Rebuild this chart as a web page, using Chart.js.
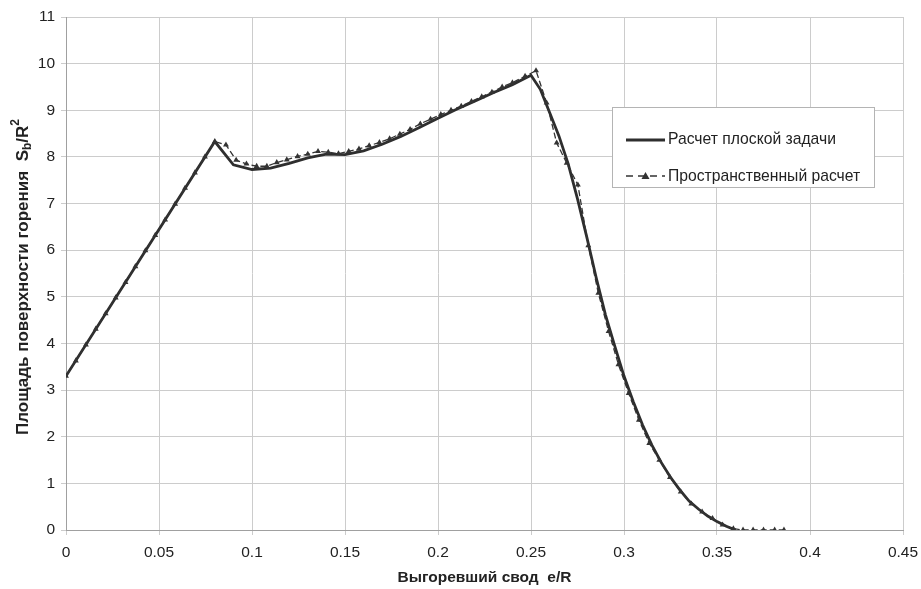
<!DOCTYPE html>
<html>
<head>
<meta charset="utf-8">
<script src="https://cdn.jsdelivr.net/npm/chart.js@4/dist/chart.umd.min.js"></script>
<style>
  html, body { margin: 0; padding: 0; background: #fff; }
  canvas { display: block; }
</style>
</head>
<body>
<canvas id="burnChart" width="921" height="589"></canvas>
<script>
// --- DATA ---
const FONT = '"Liberation Sans", Arial, sans-serif';

// flat (2D) calculation - solid line
const flatX = [0, 0.08, 0.09, 0.10, 0.11, 0.12, 0.13, 0.14, 0.15, 0.16, 0.17, 0.18, 0.19, 0.20,
  0.21, 0.22, 0.23, 0.24, 0.25, 0.255, 0.26, 0.265, 0.27, 0.275, 0.28, 0.285, 0.29, 0.295, 0.30,
  0.305, 0.31, 0.315, 0.32, 0.325, 0.33, 0.335, 0.34, 0.345, 0.35, 0.355, 0.36];
const flatY = [3.30, 8.33, 7.83, 7.73, 7.76, 7.86, 7.98, 8.06, 8.05, 8.13, 8.27, 8.44, 8.63, 8.83,
  9.02, 9.20, 9.38, 9.55, 9.75, 9.45, 8.95, 8.45, 7.85, 7.10, 6.28, 5.42, 4.62, 3.95, 3.30,
  2.75, 2.25, 1.82, 1.45, 1.13, 0.86, 0.62, 0.45, 0.30, 0.18, 0.08, 0.00];

// spatial (3D) calculation - dashed line with markers
const spaceX = [0, 0.0053, 0.0107, 0.016, 0.0213, 0.0267, 0.032, 0.0373, 0.0427, 0.048, 0.0533,
  0.0587, 0.064, 0.0693, 0.0747, 0.080, 0.086, 0.0915, 0.097, 0.1025, 0.108, 0.1133, 0.1187,
  0.1245, 0.130, 0.1355, 0.141, 0.1465, 0.152, 0.1575, 0.163, 0.1685, 0.174, 0.1795, 0.185,
  0.1905, 0.196, 0.2015, 0.207, 0.2125, 0.218, 0.2235, 0.229, 0.2345, 0.24, 0.2468, 0.2527,
  0.2584, 0.2638, 0.2692, 0.2752, 0.2808, 0.2862, 0.2917, 0.297, 0.3025, 0.308, 0.3136, 0.319,
  0.3247, 0.3305, 0.3362, 0.342, 0.3476, 0.353, 0.3588, 0.364, 0.3694, 0.375, 0.381, 0.386];
const spaceY = [3.30, 3.63, 3.97, 4.31, 4.64, 4.98, 5.31, 5.65, 5.99, 6.32, 6.65,
  6.99, 7.33, 7.66, 8.00, 8.33, 8.26, 7.93, 7.85, 7.80, 7.80, 7.88, 7.94,
  8.01, 8.06, 8.12, 8.10, 8.07, 8.12, 8.17, 8.24, 8.31, 8.39, 8.49, 8.59,
  8.71, 8.81, 8.91, 9.00, 9.09, 9.19, 9.29, 9.39, 9.50, 9.59, 9.73, 9.85,
  9.16, 8.30, 7.87, 7.40, 6.10, 5.08, 4.26, 3.55, 2.93, 2.36, 1.86, 1.50,
  1.13, 0.82, 0.56, 0.39, 0.25, 0.11, 0.03, 0, 0, 0, 0, 0];

const seriesNames = ['Расчет плоской задачи', 'Пространственный расчет'];
const xTitle = 'Выгоревший свод  e/R';
const yTitle = 'Площадь поверхности горения  ';

const zip = (xs, ys) => xs.map((x, i) => ({ x: x, y: ys[i] }));

// --- PLUGINS ---
// y-axis title with subscript / superscript (S_b / R^2)
const yTitlePlugin = {
  id: 'yTitle',
  afterDraw(chart) {
    const c = chart.ctx;
    const big = 'bold 17px ' + FONT, small = 'bold 12px ' + FONT;
    const parts = [
      { t: yTitle, f: big, dy: 0 },
      { t: 'S', f: big, dy: 0 },
      { t: 'b', f: small, dy: 5 },
      { t: '/R', f: big, dy: 0 },
      { t: '2', f: small, dy: -7 }
    ];
    let total = 0;
    parts.forEach(p => { c.font = p.f; p.w = c.measureText(p.t).width; total += p.w; });
    c.save();
    c.translate(23, 277);
    c.rotate(-Math.PI / 2);
    c.fillStyle = '#222';
    c.textBaseline = 'middle';
    c.textAlign = 'left';
    let x = -total / 2;
    parts.forEach(p => { c.font = p.f; c.fillText(p.t, x, p.dy); x += p.w; });
    c.restore();
  }
};

// boxed legend inside the plot
const legendPlugin = {
  id: 'boxLegend',
  afterDraw(chart) {
    const c = chart.ctx;
    const bx = 612, by = 107, bw = 262, bh = 80;
    c.save();
    c.fillStyle = '#fff';
    c.fillRect(bx, by, bw, bh);
    c.strokeStyle = '#b4b4b4';
    c.lineWidth = 1;
    c.strokeRect(bx + 0.5, by + 0.5, bw, bh);

    // solid entry
    c.strokeStyle = '#2e2e2e';
    c.lineWidth = 2.8;
    c.beginPath(); c.moveTo(626, 140); c.lineTo(665, 140); c.stroke();

    // dashed entry
    c.strokeStyle = '#333';
    c.lineWidth = 1.3;
    c.setLineDash([7, 5]);
    c.beginPath(); c.moveTo(626, 176); c.lineTo(665, 176); c.stroke();
    c.setLineDash([]);
    c.fillStyle = '#333';
    c.beginPath();
    c.moveTo(645.5, 172); c.lineTo(649.5, 179); c.lineTo(641.5, 179); c.closePath(); c.fill();

    c.fillStyle = '#222';
    c.font = '15.7px ' + FONT;
    c.textBaseline = 'middle';
    c.fillText(seriesNames[0], 668, 140);
    c.fillText(seriesNames[1], 668, 177);
    c.restore();
  }
};

// --- CHART ---
const ctx = document.getElementById('burnChart').getContext('2d');

const chart = new Chart(ctx, {
  type: 'line',
  data: {
    datasets: [{
      label: seriesNames[1],
      data: zip(spaceX, spaceY),
      borderColor: '#333',
      backgroundColor: '#333',
      borderWidth: 1.3,
      borderDash: [6, 3],
      pointStyle: 'triangle',
      pointRadius: 3.4,
      pointBorderWidth: 0,
      tension: 0
    }, {
      label: seriesNames[0],
      data: zip(flatX, flatY),
      borderColor: '#2e2e2e',
      borderWidth: 2.8,
      pointRadius: 0,
      tension: 0
    }]
  },
  options: {
    responsive: false,
    devicePixelRatio: 1,
    animation: false,
    layout: { padding: { top: 17, right: 18, left: 0, bottom: 0 } },
    plugins: { legend: { display: false }, tooltip: { enabled: false } },
    scales: {
      x: {
        type: 'linear',
        min: 0, max: 0.45,
        ticks: {
          stepSize: 0.05,
          color: '#222',
          font: { family: FONT, size: 15.5 },
          padding: 8,
          maxRotation: 0,
          callback: v => String(+v.toFixed(2))
        },
        grid: { color: '#cccccc', tickLength: 5 },
        border: { color: '#a0a0a0' },
        title: {
          display: true,
          text: xTitle,
          color: '#222',
          font: { family: FONT, size: 15.5, weight: 'bold' },
          padding: { top: 0, bottom: 2 }
        },
        afterFit: s => { s.height = 59; s.paddingLeft = 0; s.paddingRight = 0; }
      },
      y: {
        min: 0, max: 11,
        ticks: {
          stepSize: 1,
          color: '#222',
          font: { family: FONT, size: 15.5 },
          padding: 6
        },
        grid: { color: '#cccccc', tickLength: 5 },
        border: { color: '#a0a0a0' },
        afterFit: s => { s.width = 66; s.paddingTop = 0; s.paddingBottom = 0; }
      }
    }
  },
  plugins: [yTitlePlugin, legendPlugin]
});
</script>
</body>
</html>
